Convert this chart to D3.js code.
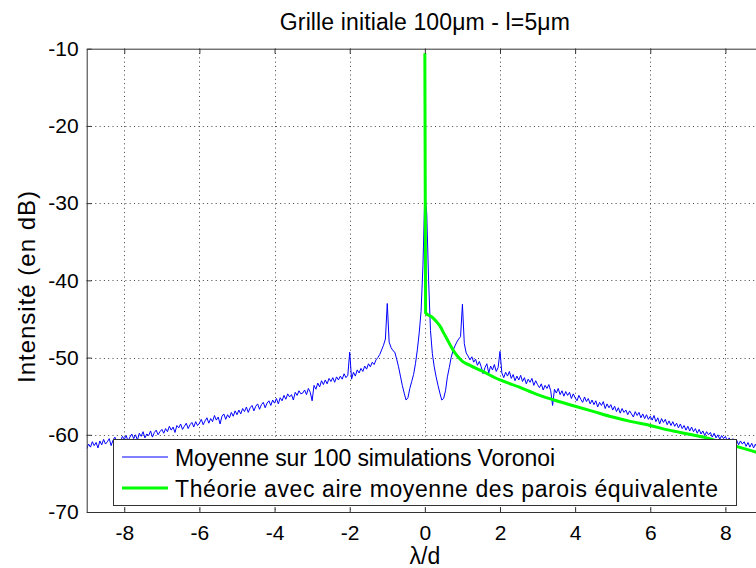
<!DOCTYPE html>
<html>
<head>
<meta charset="utf-8">
<script src="https://cdn.jsdelivr.net/npm/d3@7"></script>
<style>
  body { margin: 0; background: #fff; }
  svg { font-family: "Liberation Sans", Arial, Helvetica, sans-serif; }
</style>
</head>
<body>
<script>
// x grid of the simulation curve: -9 .. 9, step 0.05
const blueX = d3.range(361).map(i => Math.round((-9 + i * 0.05) * 100) / 100)

// average of 100 Voronoi simulations (dB)
const blueY = [
  // -9 .. -8
  -61.8, -61.2, -61.6, -60.9, -61.4, -61.0, -61.7, -60.8, -61.3, -60.6, -61.2, -60.9, -60.5, -61.4, -60.7, -60.3, -61.0, -60.6, -60.9, -60.2, -60.6,
  // -7.95 .. -7
  -60.1, -60.8, -60.3, -59.9, -60.5, -60.0, -60.7, -59.8, -60.2, -59.6, -60.4, -59.9, -60.1, -59.5, -60.3, -59.7, -59.4, -60.0, -59.6, -59.3,
  // -6.95 .. -6
  -59.8, -59.2, -59.6, -58.9, -59.4, -59.0, -59.7, -58.8, -59.1, -58.6, -59.3, -58.9, -58.5, -59.2, -58.7, -58.4, -59.0, -58.3, -58.8, -58.5,
  // -5.95 .. -5
  -58.0, -58.7, -58.2, -57.8, -58.5, -57.9, -58.3, -57.5, -58.1, -57.7, -58.6, -57.6, -57.3, -58.0, -57.4, -57.8, -57.1, -57.6, -56.9, -57.4,
  // -4.95 .. -4
  -56.8, -57.3, -56.6, -57.0, -56.4, -57.1, -56.5, -56.2, -56.9, -56.3, -56.0, -56.7, -56.1, -55.8, -56.5, -55.9, -55.6, -56.2, -55.5, -55.9,
  // -3.95 .. -3
  -55.3, -56.0, -55.2, -55.6, -54.9, -55.4, -54.7, -55.1, -54.8, -55.5, -54.5, -54.9, -54.3, -54.7, -54.6, -54.2, -54.8, -54.0, -54.5, -55.6,
  // -2.95 .. -2
  -53.6, -54.1, -53.3, -53.8, -53.0, -53.5, -52.9, -53.4, -52.7, -53.1, -52.6, -53.2, -52.5, -52.9, -52.4, -52.8, -52.1, -52.6, -52.3, -49.3,
  // -1.95 .. -1.05
  -52.8, -51.9, -52.4, -51.6, -52.0, -51.4, -51.8, -51.1, -51.5, -50.8, -51.2, -50.6, -50.9, -50.3, -50.0, -49.6, -49.0, -48.4, -47.6,
  // -1
  -43.0,
  // -0.95 .. -0.05
  -48.0, -48.7, -49.1, -49.3, -50.2, -51.2, -52.4, -53.6, -54.6, -55.5, -55.2, -54.0, -53.1, -52.2, -50.8, -49.0, -46.8, -44.0, -38.0,
  // 0
  -28.6,
  // 0.05
  -31.3,
  // 0.1 .. 0.95
  -40.0, -46.5, -49.5, -51.2, -52.5, -53.6, -54.6, -55.5, -55.3, -54.3, -52.5, -51.3, -50.0, -49.1, -48.5, -48.0, -47.6, -47.3,
  // 1
  -43.1,
  // 1.05 .. 2
  -48.2, -49.4, -49.8, -50.3, -49.9, -50.6, -50.2, -51.0, -50.5, -51.2, -52.1, -51.3, -50.8, -52.0, -51.1, -51.6, -50.9, -51.8, -51.3, -49.2,
  // 2.05 .. 3
  -52.0, -52.6, -51.9, -52.4, -51.8, -52.7, -52.2, -53.0, -52.4, -52.9, -52.3, -53.1, -52.6, -53.4, -52.8, -53.2, -52.7, -53.6, -53.0, -53.5,
  // 3.05 .. 4
  -53.9, -53.4, -54.2, -53.6, -54.0, -53.5, -54.3, -56.2, -54.1, -54.6, -54.0, -54.8, -54.3, -55.0, -54.4, -54.9, -54.5, -55.3, -54.7, -55.2,
  // 4.05 .. 5
  -55.6, -54.9, -55.4, -55.8, -55.1, -55.7, -55.3, -56.0, -55.5, -56.1, -55.6, -56.4, -55.8, -56.2, -55.7, -56.6, -56.0, -56.5, -56.1, -56.8,
  // 5.05 .. 6
  -56.3, -57.0, -56.5, -57.2, -56.6, -57.1, -56.8, -57.4, -56.9, -57.3, -57.7, -57.0, -57.5, -57.1, -57.8, -57.3, -57.9, -57.4, -58.0, -57.6,
  // 6.05 .. 7
  -58.1, -57.5, -58.3, -57.8, -58.6, -57.9, -58.4, -58.0, -58.7, -58.2, -58.8, -58.3, -58.9, -58.5, -59.1, -58.6, -59.2, -58.8, -59.4, -58.9,
  // 7.05 .. 8
  -59.5, -59.0, -59.6, -59.2, -59.8, -59.3, -59.9, -59.5, -60.1, -59.6, -60.0, -59.7, -60.3, -59.8, -60.4, -60.0, -60.6, -60.1, -60.5, -60.2,
  // 8.05 .. 9
  -60.8, -60.4, -61.0, -60.5, -61.1, -60.7, -61.3, -60.8, -61.2, -60.9, -61.5, -61.0, -61.6, -61.1, -61.7, -61.2, -61.8, -61.3, -61.9, -61.5
]

// theory curve (dB)
const greenX = [0, 0.02, 0.2, 0.3, 0.4, 0.5, 0.6, 0.7, 0.8, 0.9, 1.0, 1.2, 1.5, 2.0, 2.5, 3.0, 3.5, 4.0, 4.5, 5.0, 5.5, 6.0, 6.5, 7.0, 7.5, 8.0, 8.5, 9.0]
const greenY = [-10.6, -44.2, -44.8, -45.3, -45.9, -46.8, -47.7, -48.6, -49.4, -50.0, -50.5, -51.0, -51.7, -52.9, -53.8, -54.8, -55.6, -56.3, -57.0, -57.7, -58.3, -58.8, -59.4, -59.9, -60.4, -61.1, -61.8, -62.5]

const xTicks = [-8, -6, -4, -2, 0, 2, 4, 6, 8]
const yTicks = [-70, -60, -50, -40, -30, -20, -10]
const legendLabels = ['Moyenne sur 100 simulations Voronoi', 'Théorie avec aire moyenne des parois équivalente']

const w = 756
const h = 568
const pLeft = 86.7
const pRight = 763
const pTop = 48.7
const pBottom = 512

const svg = d3.select('body')
  .append('svg')
  .attr('width', w)
  .attr('height', h)

const xScale = d3.scaleLinear().domain([-9, 9]).range([pLeft, pRight])
const yScale = d3.scaleLinear().domain([-70, -10]).range([pBottom, pTop])

// plot background
svg.append('rect')
  .attr('x', pLeft).attr('y', pTop)
  .attr('width', pRight - pLeft).attr('height', pBottom - pTop)
  .attr('fill', '#fff')

svg.append('clipPath').attr('id', 'clip')
  .append('rect')
  .attr('x', pLeft).attr('y', pTop)
  .attr('width', pRight - pLeft).attr('height', pBottom - pTop)

// dotted grid
const grid = svg.append('g').attr('stroke', '#444').attr('stroke-width', 1).attr('stroke-dasharray', '1,3.3')
grid.selectAll('.gx').data(xTicks).enter().append('line')
  .attr('x1', d => Math.round(xScale(d)) + 0.5).attr('x2', d => Math.round(xScale(d)) + 0.5)
  .attr('y1', pTop).attr('y2', pBottom)
grid.selectAll('.gy').data(yTicks.slice(1, -1)).enter().append('line')
  .attr('y1', d => Math.round(yScale(d)) + 0.5).attr('y2', d => Math.round(yScale(d)) + 0.5)
  .attr('x1', pLeft).attr('x2', pRight)

// curves
const plot = svg.append('g').attr('clip-path', 'url(#clip)')

const blueLine = d3.line()
  .x((d, i) => xScale(blueX[i]))
  .y(d => yScale(d))

plot.append('path')
  .datum(blueY)
  .attr('fill', 'none')
  .attr('stroke', '#0000ff')
  .attr('stroke-width', 1)
  .attr('stroke-linejoin', 'round')
  .attr('d', blueLine)

const greenLine = d3.line()
  .x((d, i) => xScale(greenX[i]))
  .y(d => yScale(d))
  .curve(d3.curveMonotoneX)

plot.append('path')
  .datum(greenY)
  .attr('fill', 'none')
  .attr('stroke', '#00ff00')
  .attr('stroke-width', 3)
  .attr('d', greenLine)

// axes (ticks pointing inwards)
const fontSize = 21
const xAxis = d3.axisBottom(xScale).tickValues(xTicks).tickSize(-5).tickSizeOuter(0).tickPadding(13).tickFormat(d3.format('d'))
const gx = svg.append('g').attr('transform', `translate(0,${pBottom})`).call(xAxis)
const xTop = d3.axisTop(xScale).tickValues(xTicks).tickSize(-5).tickSizeOuter(0).tickFormat('')
const gxt = svg.append('g').attr('transform', `translate(0,${pTop})`).call(xTop)
const yAxis = d3.axisLeft(yScale).tickValues(yTicks).tickSize(-5).tickSizeOuter(0).tickPadding(8).tickFormat(d3.format('d'))
const gy = svg.append('g').attr('transform', `translate(${pLeft},0)`).call(yAxis)
const yRight = d3.axisRight(yScale).tickValues(yTicks).tickSize(-5).tickSizeOuter(0).tickFormat('')
const gyr = svg.append('g').attr('transform', `translate(${pRight},0)`).call(yRight)

;[gx, gxt, gy, gyr].forEach(g => {
  g.select('.domain').attr('stroke', '#333').attr('stroke-width', 1)
  g.selectAll('.tick line').attr('stroke', '#333')
  g.selectAll('text').attr('font-size', fontSize).attr('font-family', null).attr('fill', '#000')
})
gx.selectAll('.tick text').text(d => d < 0 ? '-' + Math.abs(d) : d)
gy.selectAll('.tick text').text(d => '-' + Math.abs(d))

// title
svg.append('text')
  .attr('x', (pLeft + pRight) / 2)
  .attr('y', 30)
  .attr('text-anchor', 'middle')
  .attr('font-size', 23)
  .attr('textLength', 290)
  .text('Grille initiale 100\u03bcm - l=5\u03bcm')

// axis labels
svg.append('text')
  .attr('x', (pLeft + pRight) / 2)
  .attr('y', 564)
  .attr('text-anchor', 'middle')
  .attr('font-size', 23)
  .text('\u03bb/d')

svg.append('text')
  .attr('transform', `translate(35,287) rotate(-90)`)
  .attr('text-anchor', 'middle')
  .attr('font-size', 24)
  .attr('textLength', 192)
  .text('Intensité (en dB)')

// legend
const lx = 113
const ly = 439
svg.append('rect')
  .attr('x', lx + 0.5).attr('y', ly + 0.5)
  .attr('width', 623).attr('height', 66)
  .attr('fill', '#fff')
  .attr('stroke', '#333')

const legendColors = ['#0000ff', '#00ff00']
const legendWidths = [1, 3]
const legendLengths = [380, 543]
legendLabels.forEach((label, i) => {
  const yy = ly + 18 + i * 31
  svg.append('line')
    .attr('x1', lx + 9).attr('x2', lx + 55)
    .attr('y1', yy).attr('y2', yy)
    .attr('stroke', legendColors[i])
    .attr('stroke-width', legendWidths[i])
  svg.append('text')
    .attr('x', lx + 62)
    .attr('y', yy + 8.5)
    .attr('font-size', 23)
    .attr('textLength', legendLengths[i])
    .text(label)
})
</script>
</body>
</html>
